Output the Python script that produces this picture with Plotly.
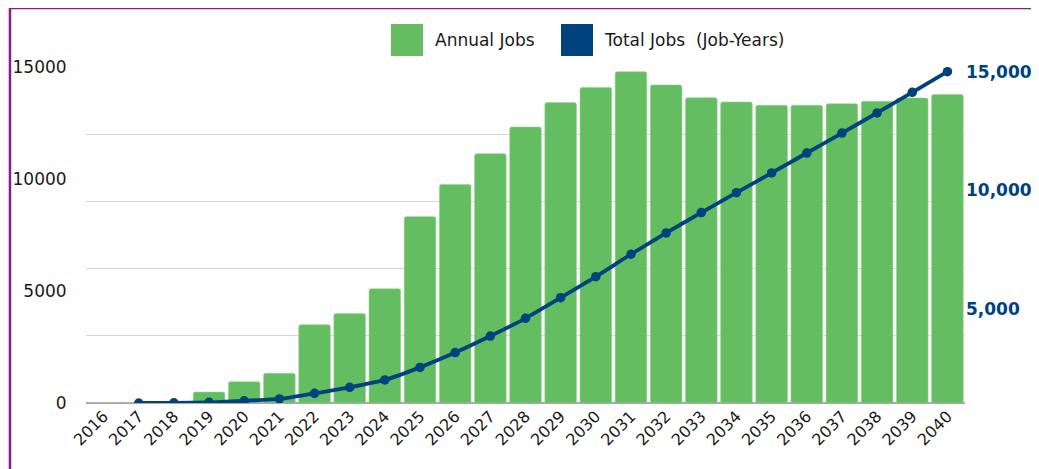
import plotly.graph_objects as go

years = [str(y) for y in range(2016, 2041)]
annual_jobs = [0, 0, 0, 490, 950, 1325, 3495, 3990, 5100, 8320, 9760, 11130, 12320,
               13410, 14090, 14790, 14200, 13630, 13440, 13290, 13290, 13360, 13470, 13620, 13770]
total_jobs = [None, 0, 10, 30, 100, 180, 430, 700, 1030, 1590, 2250, 2990, 3780,
              4700, 5640, 6640, 7590, 8500, 9390, 10270, 11160, 12050, 12950, 13870, 14790]
left_ticks = [0, 5000, 10000, 15000]
right_ticks = [5000, 10000, 15000]
right_labels = ["5,000", "10,000", "15,000"]

GREEN = "#64BD61"
BLUE = "#00427E"
FONT = "DejaVu Sans"
TXT = "#1a1a1a"

fig = go.Figure()
fig.add_trace(go.Bar(x=years, y=annual_jobs, name="Annual Jobs", marker=dict(color=GREEN,
                     line=dict(color="#9AD597", width=0.6)), showlegend=False))
fig.add_trace(go.Scatter(x=years, y=total_jobs, name="Total Jobs  (Job-Years)", mode="lines+markers",
                         line=dict(color=BLUE, width=3.8, shape="spline", smoothing=0.6),
                         marker=dict(color=BLUE, size=9.5), showlegend=False))
# invisible traces to anchor the extra axes
fig.add_trace(go.Scatter(x=[years[0]], y=[None], yaxis="y2", mode="lines", showlegend=False, hoverinfo="skip"))
fig.add_trace(go.Scatter(x=[years[0]], y=[None], yaxis="y3", mode="lines", showlegend=False, hoverinfo="skip"))

fig.update_layout(
    width=1031, height=461,
    margin=dict(l=78, r=74, t=59, b=66),
    paper_bgcolor="white", plot_bgcolor="white",
    font=dict(family=FONT, size=16, color=TXT),
    bargap=0.1,
    barcornerradius=2,
    xaxis=dict(type="category", range=[-0.5, len(years) - 0.5], tickangle=-45,
               tickfont=dict(size=16, color=TXT), showgrid=False, ticks="", ticklen=0,
               automargin=False),
    yaxis=dict(range=[0, 15000], tickvals=left_ticks, tickformat="d", showgrid=False, zeroline=False,
               ticks="outside", ticklen=15, tickcolor="white", tickfont=dict(size=17, color=TXT),
               automargin=False),
    yaxis3=dict(range=[0, 15000], dtick=3000, overlaying="y", showgrid=True, gridcolor="#D6D6D6",
                gridwidth=1, zeroline=True, zerolinecolor="#A8A8A8", zerolinewidth=1.5,
                showticklabels=False, ticks="", automargin=False),
    yaxis2=dict(range=[1034, 15211], overlaying="y", side="right", tickvals=right_ticks,
                ticktext=right_labels, showgrid=False, zeroline=False, ticks="", automargin=False,
                tickfont=dict(size=17, color=BLUE, family=FONT, weight="bold")),
    showlegend=False,
)

# legend drawn as layout decoration (large swatches as in the reference)
fig.add_shape(type="rect", xref="paper", yref="paper", x0=0.347, x1=0.3834, y0=1.0327, y1=1.128,
              fillcolor=GREEN, line=dict(width=0))
fig.add_shape(type="rect", xref="paper", yref="paper", x0=0.5404, x1=0.5768, y0=1.0327, y1=1.128,
              fillcolor=BLUE, line=dict(width=0))
fig.add_annotation(text="Annual Jobs", xref="paper", yref="paper", x=0.395, y=1.080,
                   xanchor="left", yanchor="middle", showarrow=False, font=dict(size=17, color=TXT))
fig.add_annotation(text="Total Jobs  (Job-Years)", xref="paper", yref="paper", x=0.5875, y=1.080,
                   xanchor="left", yanchor="middle", showarrow=False, font=dict(size=17, color=TXT))

# purple frame
fig.add_shape(type="rect", xref="paper", yref="paper", x0=-0.0865, x1=1.3, y0=-0.5, y1=1.1756,
              line=dict(color="#8B1A8B", width=2.5), fillcolor="rgba(0,0,0,0)", layer="above")

fig.write_html("out.html")
